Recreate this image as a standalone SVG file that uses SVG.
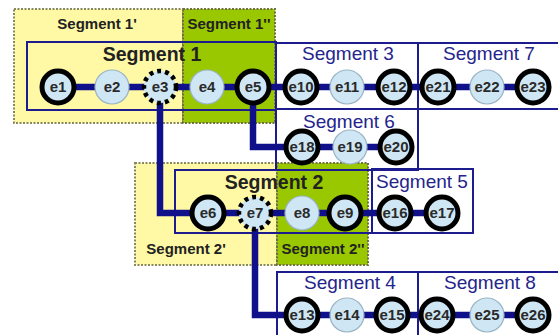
<svg xmlns="http://www.w3.org/2000/svg" width="558" height="335" viewBox="0 0 558 335">
<style>
.yel{fill:#fff9a6;stroke:#888860;stroke-width:2;stroke-dasharray:2 1.5}
.grn{fill:#99c800;stroke:#707040;stroke-width:2;stroke-dasharray:2 1.5}
.seg{fill:none;stroke:#1c1c8e;stroke-width:2}
.con{fill:none;stroke:#10108a;stroke-width:6.5;stroke-linejoin:miter}
.nb{fill:#cfe7f5;stroke:#000;stroke-width:5}
.nl{fill:#cfe7f5;stroke:#9ab4c4;stroke-width:1.2}
.nd{fill:#cfe7f5;stroke:#000;stroke-width:4.5;stroke-dasharray:4 4}
.nt{font-family:"Liberation Sans",Arial,sans-serif;font-size:15px;font-weight:bold;fill:#2a2a2a;text-anchor:middle}
.sb{font-family:"Liberation Sans",Arial,sans-serif;font-size:19.5px;font-weight:bold;fill:#222;text-anchor:middle}
.ss{font-family:"Liberation Sans",Arial,sans-serif;font-size:15px;font-weight:bold;fill:#222;text-anchor:middle}
.sn{font-family:"Liberation Sans",Arial,sans-serif;font-size:19px;fill:#24248c;text-anchor:middle}
</style>
<g id="segment1p"><rect class="yel" x="14" y="9" width="169" height="114"/><text class="ss" x="97" y="29">Segment 1'</text></g>
<g id="segment1pp"><rect class="grn" x="183" y="9" width="92" height="114"/><text class="ss" x="229" y="29">Segment 1''</text></g>
<g id="segment2p"><rect class="yel" x="135" y="163" width="142" height="102"/><text class="ss" x="186" y="254">Segment 2'</text></g>
<g id="segment2pp"><rect class="grn" x="277" y="163" width="91" height="102"/><text class="ss" x="323" y="254">Segment 2''</text></g>
<g id="segment1"><rect class="seg" x="27" y="42" width="249" height="68"/><text class="sb" x="152" y="61">Segment 1</text></g>
<g id="segment3"><rect class="seg" x="276" y="43" width="142" height="66"/><text class="sn" x="348" y="60">Segment 3</text></g>
<g id="segment7"><rect class="seg" x="418" y="43" width="142" height="66"/><text class="sn" x="489" y="60">Segment 7</text></g>
<g id="segment6"><rect class="seg" x="276" y="109" width="142" height="61"/><text class="sn" x="349" y="128">Segment 6</text></g>
<g id="segment2"><rect class="seg" x="175" y="170" width="197" height="63"/><text class="sb" x="274" y="189">Segment 2</text></g>
<g id="segment5"><rect class="seg" x="372" y="169" width="101" height="64"/><text class="sn" x="422" y="188">Segment 5</text></g>
<g id="segment4"><rect class="seg" x="277" y="272" width="141" height="70"/><text class="sn" x="350" y="289">Segment 4</text></g>
<g id="segment8"><rect class="seg" x="418" y="272" width="142" height="70"/><text class="sn" x="490" y="289">Segment 8</text></g>
<g id="connectors">
<path class="con" d="M58 87H533"/>
<path class="con" d="M160 87V213H208"/>
<path class="con" d="M253 87V147H396"/>
<path class="con" d="M208 213H442"/>
<path class="con" d="M255 213V315H533"/>
</g>
<g id="e1"><circle class="nb" cx="58" cy="87" r="16"/><text class="nt" x="58" y="92">e1</text></g>
<g id="e2"><circle class="nl" cx="112" cy="87" r="17"/><text class="nt" x="112" y="92">e2</text></g>
<g id="e3"><circle class="nd" cx="160" cy="87" r="16"/><text class="nt" x="160" y="92">e3</text></g>
<g id="e4"><circle class="nl" cx="207" cy="87" r="17"/><text class="nt" x="207" y="92">e4</text></g>
<g id="e5"><circle class="nb" cx="253" cy="87" r="16"/><text class="nt" x="253" y="92">e5</text></g>
<g id="e10"><circle class="nb" cx="301" cy="87" r="16"/><text class="nt" x="301" y="92">e10</text></g>
<g id="e11"><circle class="nl" cx="347" cy="87" r="17"/><text class="nt" x="347" y="92">e11</text></g>
<g id="e12"><circle class="nb" cx="394" cy="87" r="16"/><text class="nt" x="394" y="92">e12</text></g>
<g id="e21"><circle class="nb" cx="438" cy="87" r="16"/><text class="nt" x="438" y="92">e21</text></g>
<g id="e22"><circle class="nl" cx="487" cy="87" r="17"/><text class="nt" x="487" y="92">e22</text></g>
<g id="e23"><circle class="nb" cx="533" cy="87" r="16"/><text class="nt" x="533" y="92">e23</text></g>
<g id="e18"><circle class="nb" cx="302" cy="147" r="16"/><text class="nt" x="302" y="152">e18</text></g>
<g id="e19"><circle class="nl" cx="350" cy="147" r="17"/><text class="nt" x="350" y="152">e19</text></g>
<g id="e20"><circle class="nb" cx="396" cy="147" r="16"/><text class="nt" x="396" y="152">e20</text></g>
<g id="e6"><circle class="nb" cx="208" cy="213" r="16"/><text class="nt" x="208" y="218">e6</text></g>
<g id="e7"><circle class="nd" cx="255" cy="213" r="16"/><text class="nt" x="255" y="218">e7</text></g>
<g id="e8"><circle class="nl" cx="302" cy="213" r="17"/><text class="nt" x="302" y="218">e8</text></g>
<g id="e9"><circle class="nb" cx="345" cy="213" r="16"/><text class="nt" x="345" y="218">e9</text></g>
<g id="e16"><circle class="nb" cx="395" cy="213" r="16"/><text class="nt" x="395" y="218">e16</text></g>
<g id="e17"><circle class="nb" cx="442" cy="213" r="16"/><text class="nt" x="442" y="218">e17</text></g>
<g id="e13"><circle class="nb" cx="302" cy="315" r="16"/><text class="nt" x="302" y="320">e13</text></g>
<g id="e14"><circle class="nl" cx="347" cy="315" r="17"/><text class="nt" x="347" y="320">e14</text></g>
<g id="e15"><circle class="nb" cx="392" cy="315" r="16"/><text class="nt" x="392" y="320">e15</text></g>
<g id="e24"><circle class="nb" cx="437" cy="315" r="16"/><text class="nt" x="437" y="320">e24</text></g>
<g id="e25"><circle class="nl" cx="487" cy="315" r="17"/><text class="nt" x="487" y="320">e25</text></g>
<g id="e26"><circle class="nb" cx="533" cy="315" r="16"/><text class="nt" x="533" y="320">e26</text></g>
</svg>
